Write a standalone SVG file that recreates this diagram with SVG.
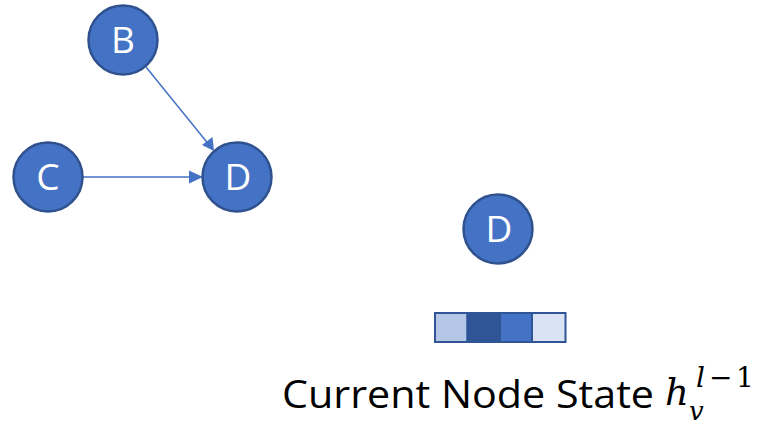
<svg xmlns="http://www.w3.org/2000/svg" width="759" height="425" viewBox="0 0 759 425">
  <defs>
    <style>
      .node circle { fill: #4472C4; stroke: #2F528F; stroke-width: 2.5; }
      .node text { fill: #FFFFFF; font-family: "Open Sans", "Liberation Sans", sans-serif; font-size: 37px; text-anchor: middle; }
      .edge { stroke: #4472C4; stroke-width: 1.5; fill: none; }
      .head { fill: #4472C4; }
      .cell { stroke: #2F5597; stroke-width: 2; }
      .caption { fill: #000000; font-family: "Open Sans", "Liberation Sans", sans-serif; font-size: 38px; }
      .math { fill: #000000; font-family: "DejaVu Serif", "Liberation Serif", serif; font-style: italic; }
      .mathup { fill: #000000; font-family: "DejaVu Serif", "Liberation Serif", serif; }
    </style>
  </defs>
  <rect width="759" height="425" fill="#FFFFFF"/>

  <!-- edges -->
  <g id="connectors">
    <line class="edge" x1="146" y1="67" x2="210" y2="146"/>
    <path class="head" d="M214,151 L212.5,137 L202,145 Z"/>
    <line class="edge" x1="82" y1="177" x2="192" y2="177"/>
    <path class="head" d="M203,177 L189,170.5 L189,183.5 Z"/>
  </g>

  <!-- graph nodes -->
  <g id="node-B" class="node">
    <circle cx="123" cy="40" r="34.5"/>
    <text x="123" y="53">B</text>
  </g>
  <g id="node-C" class="node">
    <circle cx="48" cy="177" r="34.5"/>
    <text x="48" y="190">C</text>
  </g>
  <g id="node-D" class="node">
    <circle cx="237" cy="177" r="34.5"/>
    <text x="238" y="190">D</text>
  </g>

  <!-- current node and its state vector -->
  <g id="node-D-state" class="node">
    <circle cx="498" cy="229" r="34.5"/>
    <text x="499" y="242">D</text>
  </g>
  <g id="state-vector">
    <rect class="cell" x="435" y="313" width="32.5" height="29" fill="#B4C7E7"/>
    <rect class="cell" x="467.5" y="313" width="32.5" height="29" fill="#2F5597"/>
    <rect class="cell" x="500" y="313" width="32" height="29" fill="#4472C4"/>
    <rect class="cell" x="532" y="313" width="33.5" height="29" fill="#DAE3F3"/>
  </g>

  <g id="caption">
    <text class="caption" x="282" y="408" textLength="372" lengthAdjust="spacingAndGlyphs">Current Node State</text>
    <text class="math" x="665" y="405" font-size="37">h</text>
    <text class="math" x="689" y="420" font-size="26">v</text>
    <text class="math" x="696" y="387" font-size="28">l</text>
    <text class="mathup" x="709" y="387" font-size="28">−</text>
    <text class="mathup" x="736" y="387" font-size="28">1</text>
  </g>
</svg>
